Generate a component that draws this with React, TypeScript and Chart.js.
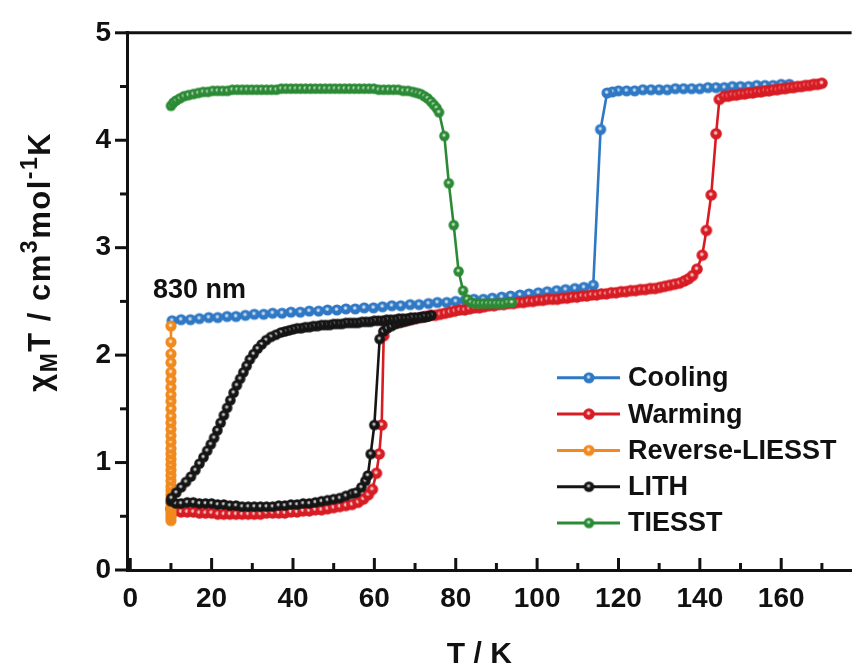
import React, { useEffect, useRef } from 'react';
import { Chart, registerables } from 'chart.js';

Chart.register(...registerables);

// ---------- axis ticks ----------
const X_TICKS = [0, 20, 40, 60, 80, 100, 120, 140, 160];
const X_MINOR = [10, 30, 50, 70, 90, 110, 130, 150, 170];
const Y_TICKS = [0, 1, 2, 3, 4, 5];
const Y_MINOR = [0.5, 1.5, 2.5, 3.5, 4.5];
const X_MIN = -0.8;
const X_MAX = 177.3;
const Y_MIN = 0;
const Y_MAX = 5;

const SERIES_NAMES = ['Cooling', 'Warming', 'Reverse-LIESST', 'LITH', 'TIESST'];
const SERIES_COLORS = ['#2f78c4', '#d81c24', '#f08a1e', '#151515', '#2b8a35'];
const ANNOTATION_TEXT = '830 nm';
const ANNOTATION_AT = [5.6, 2.53];

// ---------- Cooling ----------
const COOLING_T = [
  162, 160, 158, 156, 154, 152, 150, 148, 146, 144, 142, 140, 138, 136, 134, 132, 130, 128, 126, 124, 122, 120,
  118.5, 117.2, 115.6, 113.8,
  111.5, 109.3, 107, 104.8, 102.5, 100.3, 98, 95.8, 93.5, 91.3, 89, 86.8, 84.5, 82.3, 80, 77.8, 75.5, 73.3, 71, 68.8,
  66.5, 64.3, 62, 59.8, 57.5, 55.3, 53, 50.8, 48.5, 46.3, 44, 41.8, 39.5, 37.3, 35, 32.8, 30.5, 28.3, 26, 23.8,
  21.5, 19.3, 17, 14.8, 12.5, 10.3,
];
const COOLING_CHI = [
  4.52, 4.52, 4.51, 4.51, 4.51, 4.5, 4.5, 4.5, 4.49, 4.49, 4.49, 4.48, 4.48, 4.48, 4.48, 4.47, 4.47, 4.47, 4.47, 4.46, 4.46, 4.46,
  4.45, 4.44, 4.1, 2.65,
  2.63, 2.62, 2.61, 2.6, 2.59, 2.58, 2.57, 2.56, 2.55, 2.54, 2.53, 2.52, 2.52, 2.51, 2.5, 2.49, 2.49, 2.48, 2.47, 2.47,
  2.46, 2.46, 2.45, 2.44, 2.44, 2.43, 2.43, 2.42, 2.42, 2.41, 2.41, 2.4, 2.4, 2.39, 2.39, 2.38, 2.38, 2.37, 2.36, 2.36,
  2.35, 2.35, 2.34, 2.33, 2.33, 2.32,
];

// ---------- Warming ----------
const WARMING_T = [
  10, 11, 12.5, 14, 15.5, 17, 18.5, 20, 21.5, 23, 24.5, 26, 27.5, 29, 30.5, 32, 33.5, 35, 36.5, 38,
  39.5, 41, 42.5, 44, 45.5, 47, 48.5, 50, 51.5, 53, 54.5, 56, 57.3, 58.5, 59.5, 60.5, 61.2, 61.8, 62.3,
  63.0, 64.2, 65.4, 66.6, 67.8, 69.0, 70.2, 71.4, 72.6, 73.8, 75.0, 76.2, 77.4, 78.6, 79.8, 81.0, 82.2, 83.4, 84.6, 85.8,
  87.0, 88.2, 89.4, 90.6, 91.8, 93.0, 94.2, 95.4, 96.6, 97.8, 99.0, 100.2, 101.4, 102.6, 103.8, 105.0, 106.2, 107.4,
  108.6, 109.8, 111.0, 112.2, 113.4, 114.6, 115.8, 117.0, 118.2, 119.4, 120.6, 121.8, 123.0, 124.2, 125.4, 126.6,
  127.8, 129.0, 130.2, 131.4, 132.6, 133.8, 135.0, 136.2, 137.2,
  138.2, 139.3, 140.6, 141.6, 142.8, 144.0, 144.8,
  146, 147, 148, 149, 150, 151, 152, 153, 154, 155, 156, 157, 158, 159, 160, 161, 162, 163, 164, 165, 166, 167, 168, 169, 170,
];
const WARMING_CHI = [
  0.57, 0.55, 0.54, 0.54, 0.54, 0.53, 0.53, 0.53, 0.52, 0.52, 0.52, 0.52, 0.52, 0.52, 0.52, 0.52, 0.53, 0.53, 0.53, 0.53,
  0.54, 0.54, 0.55, 0.55, 0.56, 0.56, 0.57, 0.58, 0.59, 0.6, 0.61, 0.63, 0.66, 0.7, 0.75, 0.9, 1.08, 1.35, 2.18,
  2.28, 2.29, 2.3, 2.31, 2.32, 2.33, 2.34, 2.35, 2.36, 2.37, 2.37, 2.38, 2.39, 2.4, 2.41, 2.42, 2.42, 2.43, 2.44, 2.44,
  2.45, 2.46, 2.46, 2.47, 2.47, 2.48, 2.48, 2.49, 2.49, 2.5, 2.5, 2.51, 2.51, 2.52, 2.52, 2.52, 2.53, 2.53,
  2.54, 2.54, 2.55, 2.55, 2.56, 2.56, 2.57, 2.57, 2.58, 2.58, 2.59, 2.59, 2.6, 2.6, 2.61, 2.61,
  2.62, 2.62, 2.63, 2.64, 2.65, 2.66, 2.67, 2.69, 2.71,
  2.74, 2.8, 2.93, 3.16, 3.49, 4.06, 4.38,
  4.41, 4.41, 4.42, 4.42, 4.43, 4.43, 4.44, 4.44, 4.45, 4.45, 4.46, 4.46, 4.47, 4.47, 4.48, 4.48, 4.49, 4.49, 4.5, 4.5, 4.51, 4.51, 4.52, 4.52, 4.53,
];

// ---------- Reverse-LIESST (all at 10 K) ----------
const REVERSE_T = [
  10, 10, 10, 10, 10, 10, 10, 10, 10, 10, 10, 10, 10, 10, 10, 10,
  10, 10, 10, 10, 10, 10, 10, 10, 10, 10, 10, 10, 10, 10, 10, 10,
];
const REVERSE_CHI = [
  0.46, 0.49, 0.52, 0.55, 0.58, 0.62, 0.66, 0.7, 0.74, 0.78, 0.83, 0.88, 0.93, 0.98, 1.03, 1.08,
  1.13, 1.19, 1.25, 1.31, 1.37, 1.43, 1.5, 1.57, 1.63, 1.7, 1.77, 1.84, 1.93, 2.01, 2.12, 2.27,
];

// ---------- LITH ----------
const LITH_T = [
  10.0, 11.2, 12.5, 14.0, 15.5, 17.0, 18.5, 20.0, 21.5, 23.0, 24.5, 26.0, 27.5, 29.0, 30.5, 32.0, 33.5, 35.0, 36.5, 38.0,
  39.5, 41.0, 42.5, 44.0, 45.5, 47.0, 48.5, 50.0, 51.5, 53.0, 54.5, 55.5, 56.8, 57.8, 58.4, 59.1, 60.0, 61.3,
  62.2, 63.2, 64.2, 65.2, 66.2, 67.2, 68.2, 69.2, 70.2, 71.2, 72.2, 73.2, 74.0,
  73.0, 72.0, 71.0, 70.0, 69.0, 68.0, 67.0, 66.0, 65.0, 64.0, 63.0, 62.0, 61.0, 60.0, 59.0, 58.0, 57.0, 56.0, 55.0,
  54.0, 53.0, 52.0, 51.0, 50.0, 49.0, 48.0, 47.0, 46.0, 45.0, 44.0, 43.0, 42.0, 41.0, 40.0, 39.0, 38.0, 37.0,
  35.8, 34.6, 33.4, 32.3, 31.3, 30.3, 29.4, 28.6, 27.8, 27.0, 26.2, 25.4, 24.6, 23.8, 23.0, 22.2, 21.4, 20.6, 19.8, 18.9,
  18.0, 17.0, 16.0, 14.9, 13.7, 12.5, 11.3, 10.1,
];
const LITH_CHI = [
  0.64, 0.62, 0.62, 0.63, 0.63, 0.62, 0.62, 0.62, 0.61, 0.61, 0.6, 0.6, 0.59, 0.59, 0.59, 0.59, 0.59, 0.59, 0.6, 0.6,
  0.61, 0.61, 0.62, 0.62, 0.63, 0.64, 0.65, 0.66, 0.67, 0.69, 0.71, 0.72, 0.77, 0.83, 0.88, 1.08, 1.35, 2.15,
  2.22, 2.25, 2.27, 2.29, 2.3, 2.31, 2.32, 2.33, 2.34, 2.35, 2.35, 2.36, 2.37,
  2.36, 2.36, 2.35, 2.35, 2.35, 2.34, 2.34, 2.34, 2.33, 2.33, 2.33, 2.32, 2.32, 2.32, 2.31, 2.31, 2.31, 2.3, 2.3,
  2.3, 2.3, 2.29, 2.29, 2.29, 2.28, 2.28, 2.28, 2.27, 2.27, 2.26, 2.26, 2.25, 2.25, 2.24, 2.23, 2.22, 2.21,
  2.19, 2.17, 2.14, 2.1, 2.06, 2.01, 1.96, 1.9, 1.84, 1.78, 1.72, 1.65, 1.58, 1.51, 1.44, 1.37, 1.3, 1.23, 1.17, 1.11,
  1.05, 0.99, 0.93, 0.87, 0.82, 0.77, 0.72, 0.67,
];

// ---------- TIESST ----------
const TIESST_T = [
  10.0, 10.6, 11.3, 12.2, 13.2, 14.3, 15.5, 16.7, 17.9, 19.1,
  20.3, 21.5, 22.7, 23.9, 25.1, 26.3, 27.5, 28.7, 29.9, 31.1,
  32.3, 33.5, 34.7, 35.9, 37.1, 38.3, 39.5, 40.7, 41.9, 43.1,
  44.3, 45.5, 46.7, 47.9, 49.1, 50.3, 51.5, 52.7, 53.9, 55.1,
  56.3, 57.5, 58.7, 59.9, 61.1, 62.3, 63.5, 64.7, 65.9, 67.1,
  68.3, 69.5, 70.5, 71.4, 72.3, 73.1, 73.9, 74.6, 75.3, 75.9,
  77.2, 78.3, 79.5, 80.7, 81.8, 82.8, 83.8, 84.8, 85.8, 86.8,
  87.8, 88.8, 89.8, 90.8, 91.8, 92.8, 93.8,
];
const TIESST_CHI = [
  4.32, 4.35, 4.37, 4.39, 4.41, 4.42, 4.43, 4.44, 4.45, 4.45,
  4.46, 4.46, 4.46, 4.46, 4.47, 4.47, 4.47, 4.47, 4.47, 4.47,
  4.47, 4.47, 4.47, 4.47, 4.48, 4.48, 4.48, 4.48, 4.48, 4.48,
  4.48, 4.48, 4.48, 4.48, 4.48, 4.48, 4.48, 4.48, 4.48, 4.48,
  4.48, 4.48, 4.48, 4.48, 4.47, 4.47, 4.47, 4.47, 4.47, 4.46,
  4.46, 4.45, 4.44, 4.43, 4.41, 4.39, 4.36, 4.33, 4.3, 4.26,
  4.04, 3.6, 3.21, 2.78, 2.6, 2.52, 2.49, 2.48, 2.48, 2.48,
  2.48, 2.48, 2.48, 2.48, 2.48, 2.49, 2.49,
];

const SERIES_T = [COOLING_T, WARMING_T, REVERSE_T, LITH_T, TIESST_T];
const SERIES_CHI = [COOLING_CHI, WARMING_CHI, REVERSE_CHI, LITH_CHI, TIESST_CHI];
const DOT_RADIUS = [5.6, 5.8, 5.6, 5.3, 5.2];
const DRAW_ORDER = [5, 4, 3, 2, 1];

const FONT = '"Liberation Sans", Arial, Helvetica, sans-serif';
const INK = '#111111';

function makeDot(color: string, r: number): HTMLCanvasElement {
  const c = document.createElement('canvas');
  const s = Math.ceil(r * 2 + 2);
  c.width = s;
  c.height = s;
  const g = c.getContext('2d') as CanvasRenderingContext2D;
  const cx = s / 2;
  const cy = s / 2;
  g.beginPath();
  g.arc(cx, cy, r, 0, Math.PI * 2);
  g.fillStyle = color;
  g.fill();
  const hx = cx - r * 0.08;
  const hy = cy - r * 0.15;
  const grad = g.createRadialGradient(hx, hy, 0, hx, hy, r * 0.42);
  grad.addColorStop(0, 'rgba(255,255,255,0.95)');
  grad.addColorStop(0.55, 'rgba(255,255,255,0.55)');
  grad.addColorStop(1, 'rgba(255,255,255,0)');
  g.beginPath();
  g.arc(cx, cy, r, 0, Math.PI * 2);
  g.fillStyle = grad;
  g.fill();
  return c;
}

type Part = { t: string; kind: 'main' | 'sub' | 'sup' };
const Y_TITLE: Part[] = [
  { t: 'χ', kind: 'main' },
  { t: 'M', kind: 'sub' },
  { t: 'T / cm', kind: 'main' },
  { t: '3', kind: 'sup' },
  { t: 'mol', kind: 'main' },
  { t: '-1', kind: 'sup' },
  { t: 'K', kind: 'main' },
];
const X_TITLE = 'T / K';

const decorPlugin = {
  id: 'decor',
  afterDraw(chart: any) {
    const { ctx, chartArea: ca, scales } = chart;
    const xs = scales.x;
    const ys = scales.y;
    ctx.save();
    ctx.strokeStyle = INK;
    ctx.lineWidth = 3;
    ctx.lineCap = 'butt';
    const seg = (x1: number, y1: number, x2: number, y2: number) => {
      ctx.beginPath();
      ctx.moveTo(x1, y1);
      ctx.lineTo(x2, y2);
      ctx.stroke();
    };
    // top frame
    seg(ca.left - 1.5, ca.top, ca.right, ca.top);
    // x ticks (inward)
    X_TICKS.forEach((v) => {
      const px = xs.getPixelForValue(v);
      seg(px, ca.bottom, px, ca.bottom - 12);
    });
    X_MINOR.forEach((v) => {
      const px = xs.getPixelForValue(v);
      if (px < ca.right) seg(px, ca.bottom, px, ca.bottom - 7);
    });
    // y ticks (outward)
    Y_TICKS.forEach((v) => {
      const py = ys.getPixelForValue(v);
      seg(ca.left, py, ca.left - 12, py);
    });
    Y_MINOR.forEach((v) => {
      const py = ys.getPixelForValue(v);
      seg(ca.left, py, ca.left - 7, py);
    });

    ctx.fillStyle = INK;
    // x title
    ctx.font = `bold 30px ${FONT}`;
    ctx.textAlign = 'center';
    ctx.textBaseline = 'alphabetic';
    ctx.fillText(X_TITLE, (ca.left + ca.right) / 2 - 10, ca.bottom + 93);

    // y title (rotated, with sub/superscripts)
    const mainF = `bold 31px ${FONT}`;
    const smallF = `bold 23px ${FONT}`;
    const spacing = 1.5;
    let total = 0;
    Y_TITLE.forEach((p) => {
      ctx.font = p.kind === 'main' ? mainF : smallF;
      total += ctx.measureText(p.t).width + spacing * p.t.length;
    });
    ctx.save();
    ctx.translate(50, ca.top + 229);
    ctx.rotate(-Math.PI / 2);
    ctx.textAlign = 'left';
    let u = -total / 2;
    Y_TITLE.forEach((p) => {
      ctx.font = p.kind === 'main' ? mainF : smallF;
      const dv = p.kind === 'sub' ? 7 : p.kind === 'sup' ? -13 : 0;
      for (const ch of p.t) {
        ctx.fillText(ch, u, dv);
        u += ctx.measureText(ch).width + spacing;
      }
    });
    ctx.restore();

    // annotation
    ctx.font = `bold 27px ${FONT}`;
    ctx.textAlign = 'left';
    ctx.textBaseline = 'alphabetic';
    ctx.fillText(ANNOTATION_TEXT, xs.getPixelForValue(ANNOTATION_AT[0]), ys.getPixelForValue(ANNOTATION_AT[1]));

    // legend
    const lx0 = ca.left + 430;
    const lx1 = ca.left + 493;
    const mx = ca.left + 462;
    const tx = ca.left + 501;
    chart.data.datasets.forEach((ds: any, i: number) => {
      const y = ca.top + 345 + i * 36.3;
      ctx.strokeStyle = ds.borderColor;
      ctx.lineWidth = 3;
      seg(lx0, y, lx1, y);
      const img = ds.pointStyle as HTMLCanvasElement;
      ctx.drawImage(img, mx - img.width / 2, y - img.height / 2);
      ctx.fillStyle = INK;
      ctx.font = `bold 27px ${FONT}`;
      ctx.textAlign = 'left';
      ctx.textBaseline = 'middle';
      ctx.fillText(ds.label, tx, y + 1);
    });
    ctx.restore();
  },
};

export default function App() {
  const ref = useRef<HTMLCanvasElement | null>(null);

  useEffect(() => {
    if (!ref.current) return;
    const datasets = SERIES_NAMES.map((name, i) => ({
      label: name,
      data: SERIES_T[i].map((t, k) => ({ x: t, y: SERIES_CHI[i][k] })),
      showLine: true,
      borderColor: SERIES_COLORS[i],
      backgroundColor: SERIES_COLORS[i],
      borderWidth: 2.6,
      pointStyle: makeDot(SERIES_COLORS[i], DOT_RADIUS[i]),
      pointRadius: DOT_RADIUS[i],
      order: DRAW_ORDER[i],
    }));

    const tickFont = { family: FONT, size: 28, weight: 'bold' as const };
    const chart = new Chart(ref.current, {
      type: 'scatter',
      data: { datasets },
      options: {
        responsive: false,
        animation: false,
        devicePixelRatio: 1,
        layout: { padding: { top: 28, right: 0, left: 0, bottom: 0 } },
        plugins: { legend: { display: false }, tooltip: { enabled: false } },
        scales: {
          x: {
            type: 'linear',
            min: X_MIN,
            max: X_MAX,
            afterBuildTicks: (s: any) => {
              s.ticks = X_TICKS.map((v) => ({ value: v }));
            },
            afterFit: (s: any) => {
              s.height = 98;
            },
            grid: { display: false, drawTicks: false },
            border: { display: true, color: INK, width: 3 },
            ticks: { padding: 12, color: INK, font: tickFont, maxRotation: 0, autoSkip: false },
          },
          y: {
            type: 'linear',
            min: Y_MIN,
            max: Y_MAX,
            afterBuildTicks: (s: any) => {
              s.ticks = Y_TICKS.map((v) => ({ value: v }));
            },
            afterFit: (s: any) => {
              s.width = 127;
            },
            grid: { display: false, drawTicks: false },
            border: { display: true, color: INK, width: 3 },
            ticks: { padding: 16, color: INK, font: tickFont, autoSkip: false },
          },
        },
      },
      plugins: [decorPlugin],
    } as any);
    return () => chart.destroy();
  }, []);

  return (
    <div style={{ position: 'absolute', left: 0, top: 0, width: 860, height: 668, background: '#fff' }}>
      <canvas ref={ref} width={860} height={668} style={{ display: 'block' }} />
    </div>
  );
}
